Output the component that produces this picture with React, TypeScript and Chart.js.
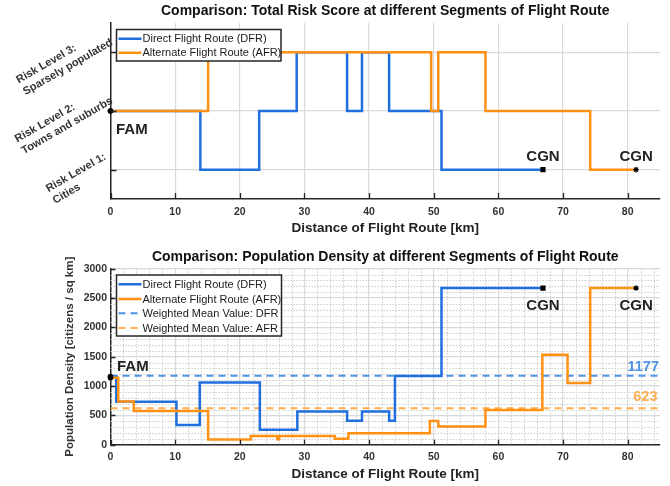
import React, { useEffect, useRef } from 'react';
import { Chart, registerables } from 'chart.js';

Chart.register(...registerables);

const FONT = '"Liberation Sans", Arial, Helvetica, sans-serif';

// ---------- data ----------
const riskLevelTicks = [1, 2, 3];
const riskLevelLabels = [
  ['Risk Level 1:', 'Cities'],
  ['Risk Level 2:', 'Towns and suburbs'],
  ['Risk Level 3:', 'Sparsely populated'],
];

const dfrRiskKm = [0, 13.9, 23.0, 28.8, 36.6, 38.9, 43.1, 51.2, 66.9];
const dfrRiskLevel = [2, 1, 2, 3, 2, 3, 2, 1, 1];
const afrRiskKm = [0, 15.1, 49.6, 50.7, 58.0, 74.2, 81.3];
const afrRiskLevel = [2, 3, 2, 3, 2, 1, 1];

const dfrDensityKm = [0, 0.9, 10.2, 13.8, 23.1, 28.9, 36.6, 38.9, 43.1, 44.0, 51.2, 66.9];
const dfrDensity = [1160, 730, 336, 1060, 255, 565, 409, 565, 409, 1170, 2670, 2670];
const afrDensityKm = [0, 1.2, 3.6, 15.1, 21.7, 25.8, 26.1, 34.7, 36.8, 49.4, 50.7, 58.0, 66.8, 70.7, 74.2, 81.3];
const afrDensity = [1140, 735, 574, 88, 150, 92, 150, 102, 195, 405, 310, 590, 1535, 1050, 2670, 2670];

const meanDfr = 1177;
const meanAfr = 623;
const meanKm = [0, 85];

const legendLabels = [
  'Direct Flight Route (DFR)',
  'Alternate Flight Route (AFR)',
  'Weighted Mean Value: DFR',
  'Weighted Mean Value: AFR',
];
const startLabel = 'FAM';
const endLabel = 'CGN';
const topTitle = 'Comparison: Total Risk Score at different Segments of Flight Route';
const bottomTitle = 'Comparison: Population Density at different Segments of Flight Route';
const xTitle = 'Distance of Flight Route [km]';
const yTitleBottom = 'Population Density [citizens / sq km]';

// ---------- styles ----------
const BLUE = '#1f6fdf';
const ORANGE = '#ff9214';
const BLUE_MEAN = '#4f93e6';
const ORANGE_MEAN = '#ffae4f';
const AXIS = '#262626';
const GRID = '#d9d9d9';
const MINOR = '#cdcdcd';
const TICKCOL = '#333333';

const pts = (xs: number[], ys: number[]) => xs.map((x, i) => ({ x, y: ys[i] }));
const flat = (xs: number[], v: number) => xs.map((x) => ({ x, y: v }));

function lineDataset(label: string, data: any[], color: string, order: number, endStyle: string) {
  const n = data.length;
  return {
    label,
    data,
    borderColor: color,
    backgroundColor: color,
    borderWidth: 2.5,
    stepped: 'before' as const,
    fill: false,
    clip: false as any,
    order,
    pointRadius: (c: any) => (c.dataIndex === 0 ? 2.2 : c.dataIndex === n - 1 ? 2.8 : 0),
    pointStyle: (c: any) => (c.dataIndex === n - 1 ? endStyle : 'circle'),
    pointBackgroundColor: '#000',
    pointBorderColor: '#000',
    pointBorderWidth: 1.2,
  };
}

function meanDataset(label: string, v: number, color: string, order: number) {
  return {
    label,
    data: flat(meanKm, v),
    borderColor: color,
    backgroundColor: color,
    borderWidth: 2,
    borderDash: [7, 5],
    pointRadius: 0,
    fill: false,
    order,
  };
}

function drawLegend(chart: any, box: { x: number; y: number; w: number; h: number }, rowY: number[]) {
  const ctx = chart.ctx;
  const ds = chart.data.datasets;
  ctx.save();
  ctx.fillStyle = '#ffffff';
  ctx.fillRect(box.x, box.y, box.w, box.h);
  ctx.beginPath();
  ctx.rect(box.x, box.y, box.w, box.h);
  ctx.clip();
  rowY.forEach((ry, i) => {
    const d = ds[i];
    ctx.beginPath();
    ctx.setLineDash(d.borderDash || []);
    ctx.strokeStyle = d.borderColor;
    ctx.lineWidth = d.borderWidth;
    ctx.moveTo(box.x + 2, ry);
    ctx.lineTo(box.x + 25, ry);
    ctx.stroke();
    ctx.setLineDash([]);
    ctx.fillStyle = '#1a1a1a';
    ctx.font = `11px ${FONT}`;
    ctx.textAlign = 'left';
    ctx.textBaseline = 'middle';
    ctx.fillText(d.label, box.x + 26, ry + 0.5);
  });
  ctx.restore();
  ctx.save();
  ctx.lineWidth = 1.5;
  ctx.strokeStyle = AXIS;
  ctx.strokeRect(box.x, box.y, box.w, box.h);
  ctx.restore();
}

function drawInnerTicks(chart: any, len: number) {
  const { ctx, chartArea } = chart;
  const xs = chart.scales.x;
  const ys = chart.scales.y;
  ctx.save();
  ctx.strokeStyle = AXIS;
  ctx.lineWidth = 1.3;
  ctx.beginPath();
  xs.ticks.forEach((t: any) => {
    const px = Math.round(xs.getPixelForValue(t.value)) + 0.5;
    ctx.moveTo(px, chartArea.bottom);
    ctx.lineTo(px, chartArea.bottom - len);
  });
  ys.ticks.forEach((t: any) => {
    const py = Math.round(ys.getPixelForValue(t.value)) + 0.5;
    ctx.moveTo(chartArea.left, py);
    ctx.lineTo(chartArea.left + len, py);
  });
  ctx.stroke();
  ctx.restore();
}

function drawText(ctx: any, text: string, x: number, y: number, font: string, color: string, align: string, baseline: string) {
  ctx.save();
  ctx.font = font;
  ctx.fillStyle = color;
  ctx.textAlign = align;
  ctx.textBaseline = baseline;
  ctx.fillText(text, x, y);
  ctx.restore();
}

const topPlugin = {
  id: 'topDecor',
  afterDraw(chart: any) {
    const { ctx, chartArea } = chart;
    const xs = chart.scales.x;
    const ys = chart.scales.y;
    const cx = (chartArea.left + chartArea.right) / 2;
    drawInnerTicks(chart, 6);
    drawText(ctx, topTitle, cx, 11.5, `bold 14px ${FONT}`, '#111', 'center', 'middle');
    drawText(ctx, xTitle, cx, 228, `bold 13.5px ${FONT}`, '#222', 'center', 'middle');
    ctx.save();
    ctx.font = `bold 11px ${FONT}`;
    ctx.fillStyle = TICKCOL;
    ctx.textAlign = 'left';
    ctx.textBaseline = 'middle';
    const ang = (30 * Math.PI) / 180;
    const s = Math.sin(ang);
    const lh = 13.5;
    riskLevelTicks.forEach((v, i) => {
      const lines = riskLevelLabels[i];
      const W = Math.max(...lines.map((l) => ctx.measureText(l).width));
      const ax = chartArea.left - 2;
      const ay = ys.getPixelForValue(v) - (W * s) / 2 + 9;
      ctx.save();
      ctx.translate(ax, ay);
      ctx.rotate(-ang);
      lines.forEach((l, j) => ctx.fillText(l, -W, (j - (lines.length - 1) / 2) * lh));
      ctx.restore();
    });
    ctx.restore();
    const f = `bold 15px ${FONT}`;
    drawText(ctx, startLabel, xs.getPixelForValue(0) + 5.5, ys.getPixelForValue(dfrRiskLevel[0]) + 22.5, f, '#222', 'left', 'alphabetic');
    const e1 = dfrRiskKm.length - 1;
    const e2 = afrRiskKm.length - 1;
    drawText(ctx, endLabel, xs.getPixelForValue(dfrRiskKm[e1]), ys.getPixelForValue(dfrRiskLevel[e1]) - 8.5, f, '#222', 'center', 'alphabetic');
    drawText(ctx, endLabel, xs.getPixelForValue(afrRiskKm[e2]), ys.getPixelForValue(afrRiskLevel[e2]) - 8.5, f, '#222', 'center', 'alphabetic');
    drawLegend(chart, { x: 116.5, y: 29.5, w: 164.5, h: 31.5 }, [38.7, 52.7]);
  },
};

const bottomPlugin = {
  id: 'bottomDecor',
  beforeDatasetsDraw(chart: any) {
    const { ctx, chartArea } = chart;
    const xs = chart.scales.x;
    const ys = chart.scales.y;
    ctx.save();
    ctx.strokeStyle = MINOR;
    ctx.lineWidth = 1;
    ctx.setLineDash([1.5, 1.5]);
    ctx.beginPath();
    for (let v = 2; v < xs.max; v += 2) {
      if (v % 10 === 0) continue;
      const px = Math.round(xs.getPixelForValue(v)) + 0.5;
      ctx.moveTo(px, chartArea.top);
      ctx.lineTo(px, chartArea.bottom);
    }
    for (let v = 100; v < ys.max; v += 100) {
      if (v % 500 === 0) continue;
      const py = Math.round(ys.getPixelForValue(v)) + 0.5;
      ctx.moveTo(chartArea.left, py);
      ctx.lineTo(chartArea.right, py);
    }
    ctx.stroke();
    ctx.restore();
  },
  afterDraw(chart: any) {
    const { ctx, chartArea } = chart;
    const xs = chart.scales.x;
    const ys = chart.scales.y;
    const cx = (chartArea.left + chartArea.right) / 2;
    const cy = (chartArea.top + chartArea.bottom) / 2;
    drawInnerTicks(chart, 5);
    drawText(ctx, bottomTitle, cx, 13.7, `bold 14px ${FONT}`, '#111', 'center', 'middle');
    drawText(ctx, xTitle, cx, 231.7, `bold 13.5px ${FONT}`, '#222', 'center', 'middle');
    ctx.save();
    ctx.translate(70, cy);
    ctx.rotate(-Math.PI / 2);
    drawText(ctx, yTitleBottom, 0, 0, `bold 11.5px ${FONT}`, TICKCOL, 'center', 'middle');
    ctx.restore();
    const f = `bold 15px ${FONT}`;
    drawText(ctx, startLabel, xs.getPixelForValue(0) + 6.5, ys.getPixelForValue(afrDensity[0]) - 6.5, f, '#222', 'left', 'alphabetic');
    const e1 = dfrDensityKm.length - 1;
    const e2 = afrDensityKm.length - 1;
    drawText(ctx, endLabel, xs.getPixelForValue(dfrDensityKm[e1]), ys.getPixelForValue(dfrDensity[e1]) + 22, f, '#222', 'center', 'alphabetic');
    drawText(ctx, endLabel, xs.getPixelForValue(afrDensityKm[e2]), ys.getPixelForValue(afrDensity[e2]) + 22, f, '#222', 'center', 'alphabetic');
    drawText(ctx, String(meanDfr), chartArea.right - 1, ys.getPixelForValue(meanDfr) - 5, `bold 14.5px ${FONT}`, BLUE_MEAN, 'right', 'alphabetic');
    drawText(ctx, String(meanAfr), chartArea.right - 2.5, ys.getPixelForValue(meanAfr) - 7, `bold 14.5px ${FONT}`, ORANGE_MEAN, 'right', 'alphabetic');
    drawLegend(chart, { x: 116.5, y: 32, w: 165, h: 61 }, [41.3, 56, 70.3, 85]);
  },
};

const tickFont = { family: FONT, size: 10.5, weight: 'bold' as const };

function xScale(height: number, pad: number) {
  return {
    type: 'linear' as const,
    min: 0,
    max: 85,
    ticks: {
      stepSize: 10,
      includeBounds: false,
      font: tickFont,
      color: TICKCOL,
      padding: pad,
      maxRotation: 0,
      callback: (v: any) => String(v),
    },
    grid: { color: GRID, lineWidth: 1.2, drawTicks: false },
    border: { display: true, color: AXIS, width: 1.5 },
    afterFit: (s: any) => {
      s.height = height;
      s.paddingLeft = 0;
      s.paddingRight = 0;
    },
  };
}

function topConfig(): any {
  return {
    type: 'line',
    data: {
      datasets: [
        lineDataset(legendLabels[0], pts(dfrRiskKm, dfrRiskLevel), BLUE, 2, 'rect'),
        lineDataset(legendLabels[1], pts(afrRiskKm, afrRiskLevel), ORANGE, 1, 'star'),
      ],
    },
    options: {
      responsive: false,
      maintainAspectRatio: false,
      devicePixelRatio: 1,
      animation: false,
      events: [],
      layout: { padding: { top: 23, right: 10, left: 0, bottom: 0 } },
      plugins: { legend: { display: false }, tooltip: { enabled: false }, title: { display: false } },
      scales: {
        x: xScale(44, 7),
        y: {
          type: 'linear',
          min: 0.5,
          max: 3.5,
          afterBuildTicks: (s: any) => {
            s.ticks = riskLevelTicks.map((v) => ({ value: v }));
          },
          ticks: { display: false },
          grid: { color: GRID, lineWidth: 1.2, drawTicks: false },
          border: { display: true, color: AXIS, width: 1.5 },
          afterFit: (s: any) => {
            s.width = 110.5;
            s.paddingTop = 0;
            s.paddingBottom = 0;
          },
        },
      },
    },
    plugins: [topPlugin],
  };
}

function bottomConfig(): any {
  return {
    type: 'line',
    data: {
      datasets: [
        lineDataset(legendLabels[0], pts(dfrDensityKm, dfrDensity), BLUE, 2, 'rect'),
        lineDataset(legendLabels[1], pts(afrDensityKm, afrDensity), ORANGE, 1, 'star'),
        meanDataset(legendLabels[2], meanDfr, BLUE_MEAN, 3),
        meanDataset(legendLabels[3], meanAfr, ORANGE_MEAN, 4),
      ],
    },
    options: {
      responsive: false,
      maintainAspectRatio: false,
      devicePixelRatio: 1,
      animation: false,
      events: [],
      layout: { padding: { top: 25.7, right: 10, left: 0, bottom: 0 } },
      plugins: { legend: { display: false }, tooltip: { enabled: false }, title: { display: false } },
      scales: {
        x: xScale(41.3, 6),
        y: {
          type: 'linear',
          min: 0,
          max: 3000,
          ticks: {
            stepSize: 500,
            font: tickFont,
            color: TICKCOL,
            padding: 3.5,
            callback: (v: any) => String(v),
          },
          grid: { color: GRID, lineWidth: 1.2, drawTicks: false },
          border: { display: true, color: AXIS, width: 1.5 },
          afterFit: (s: any) => {
            s.width = 110.5;
            s.paddingTop = 0;
            s.paddingBottom = 0;
          },
        },
      },
    },
    plugins: [bottomPlugin],
  };
}

export default function App() {
  const topRef = useRef<HTMLCanvasElement>(null);
  const botRef = useRef<HTMLCanvasElement>(null);
  useEffect(() => {
    const c1 = new Chart(topRef.current as HTMLCanvasElement, topConfig());
    const c2 = new Chart(botRef.current as HTMLCanvasElement, bottomConfig());
    return () => {
      c1.destroy();
      c2.destroy();
    };
  }, []);
  return (
    <div style={{ position: 'absolute', left: 0, top: 0, width: 670, height: 486, background: '#ffffff' }}>
      <canvas ref={topRef} width={670} height={243} style={{ position: 'absolute', left: 0, top: 0, width: 670, height: 243 }} />
      <canvas ref={botRef} width={670} height={243} style={{ position: 'absolute', left: 0, top: 243, width: 670, height: 243 }} />
    </div>
  );
}
